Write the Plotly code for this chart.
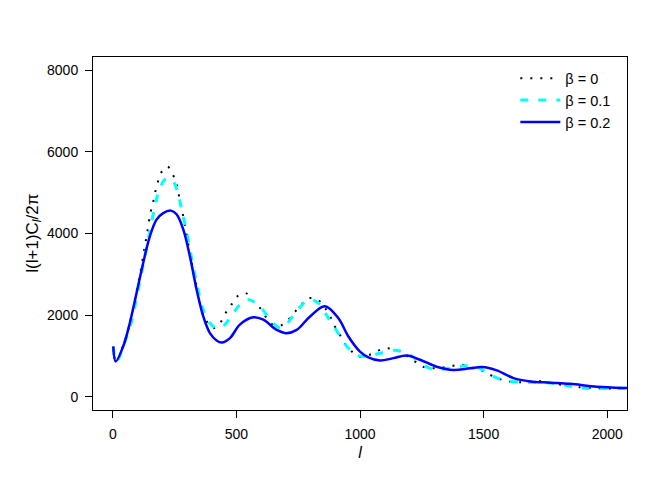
import plotly.graph_objects as go

# beta = 0 (black dotted)
l_b0 = [2, 12, 20, 35, 62, 80, 96, 112, 126, 140, 153, 163, 171, 182, 194, 221, 244, 258,
        274, 291, 305, 320, 336, 352, 375, 405, 437, 457, 480, 503, 538, 568, 595, 642,
        680, 710, 737, 764, 795, 831, 858, 879, 896, 916, 936, 962, 996, 1034, 1072,
        1110, 1160, 1219, 1254, 1310, 1371, 1412, 1450, 1490, 1526, 1564, 1603, 1644,
        1722, 1803, 1843, 1884, 1965, 2046, 2120]
cl_b0 = [1230, 870, 900, 1150, 1640, 2110, 2580, 3060, 3560, 4050, 4520, 4760, 5000, 5250,
         5470, 5640, 5430, 5200, 4730, 4240, 3750, 3260, 2800, 2310, 1900, 1680, 1840, 2060,
         2260, 2460, 2540, 2340, 2180, 1790, 1750, 1890, 2080, 2270, 2420, 2370, 2180, 1970,
         1750, 1550, 1330, 1140, 990, 1020, 1130, 1190, 1110, 880, 740, 700, 760, 790, 720,
         650, 540, 440, 380, 360, 390, 310, 270, 240, 210, 200, 190]

# beta = 0.1 (cyan dashed)
l_b1 = [2, 12, 20, 49, 76, 102, 130, 150, 170, 190, 217, 244, 264, 285, 305, 325, 345, 366,
        393, 420, 445, 487, 528, 550, 568, 602, 642, 683, 743, 791, 831, 872, 912, 953, 1000,
        1040, 1081, 1140, 1190, 1229, 1283, 1337, 1418, 1472, 1526, 1594, 1688, 1796,
        1877, 1958, 2073, 2120]
cl_b1 = [1230, 870, 900, 1350, 1850, 2600, 3450, 4050, 4650, 5100, 5350, 5280, 4960, 4420,
         3850, 3200, 2630, 2130, 1810, 1680, 1720, 2050, 2340, 2380, 2340, 2170, 1850, 1690,
         2090, 2380, 2300, 1930, 1560, 1190, 1000, 1010, 1070, 1140, 1070, 910, 700, 680,
         760, 740, 540, 390, 360, 330, 230, 210, 210, 205]

# beta = 0.2 (blue solid)
l_b2 = [2, 12, 42, 69, 96, 123, 150, 177, 204, 235, 258, 285, 312, 339, 366, 393, 420, 441,
        474, 514, 568, 609, 663, 703, 744, 798, 858, 912, 953, 1000, 1034, 1081, 1135, 1190,
        1243, 1310, 1377, 1445, 1494, 1553, 1621, 1688, 1769, 1850, 1958, 2073, 2120]
cl_b2 = [1235, 870, 1235, 1810, 2540, 3280, 3930, 4340, 4500, 4560, 4470, 4100, 3440, 2630,
         1970, 1560, 1380, 1330, 1440, 1770, 1950, 1890, 1640, 1560, 1640, 1970, 2220, 1930,
         1480, 1110, 970, 890, 950, 1015, 910, 740, 660, 700, 730, 650, 460, 380, 350, 320,
         250, 220, 215]

x_ticks = [0, 500, 1000, 1500, 2000]
y_ticks = [0, 2000, 4000, 6000, 8000]

fig = go.Figure()
fig.add_trace(go.Scatter(x=l_b0, y=cl_b0, mode="lines", name="β = 0", line_shape="spline",
                         line=dict(color="black", width=2, dash="2px,8px")))
fig.add_trace(go.Scatter(x=l_b1, y=cl_b1, mode="lines", name="β = 0.1", line_shape="spline",
                         line=dict(color="cyan", width=3, dash="8px,10px")))
fig.add_trace(go.Scatter(x=l_b2, y=cl_b2, mode="lines", name="β = 0.2", line_shape="spline",
                         line=dict(color="blue", width=2.5)))

axis_style = dict(showline=True, mirror=True, linecolor="black", linewidth=1,
                  ticks="outside", ticklen=7, tickcolor="black", showgrid=False,
                  zeroline=False, tickfont=dict(size=14, color="black"))

# page has an 8px body margin, so the margins are shifted to put the frame where R put it
fig.update_layout(
    width=660, height=480,
    margin=dict(l=85, r=41, t=49, b=78),
    plot_bgcolor="white", paper_bgcolor="white",
    font=dict(family="Liberation Sans, Arial, sans-serif", color="black"),
    xaxis=dict(range=[-80, 2080], tickvals=x_ticks, ticklabelstandoff=4,
               title=dict(text="<i>l</i>", font=dict(size=16), standoff=6), **axis_style),
    yaxis=dict(range=[-320, 8320], tickvals=y_ticks, ticklabelstandoff=4, **axis_style),
    legend=dict(x=0.98, xanchor="right", y=0.985, yanchor="top", bgcolor="rgba(0,0,0,0)",
                font=dict(size=14.5), tracegroupgap=0, itemwidth=40),
    showlegend=True,
)

# y label as an annotation so it sits centred on the frame like R's
fig.add_annotation(text="l(l+1)C<sub><i>l</i></sub>/2π", xref="paper", yref="paper",
                   x=-0.112, y=0.5, xanchor="center", yanchor="middle",
                   textangle=-90, showarrow=False, font=dict(size=17))

fig.write_html("out.html")
